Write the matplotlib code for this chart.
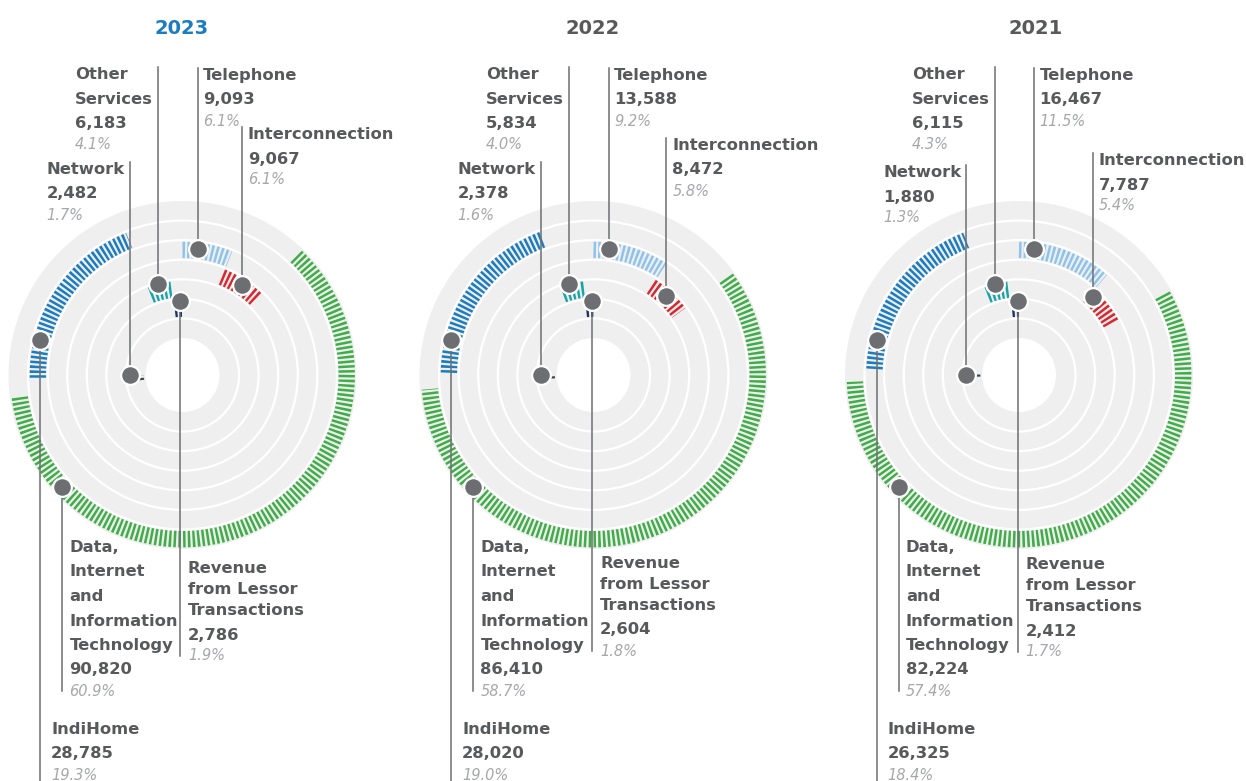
import numpy as np
import matplotlib.pyplot as plt
from matplotlib.patches import Wedge, Circle

plt.rcParams['font.family'] = 'DejaVu Sans'
plt.rcParams['lines.scale_dashes'] = False

# data (angular order, clockwise from the top)
years = ['2023', '2022', '2021']
categories = ['Telephone', 'Interconnection', 'Data, Internet and Information Technology',
              'Network', 'IndiHome', 'Other Services', 'Revenue from Lessor Transactions']
values_2023 = [9093, 9067, 90820, 2482, 28785, 6183, 2786]
values_2022 = [13588, 8472, 86410, 2378, 28020, 5834, 2604]
values_2021 = [16467, 7787, 82224, 1880, 26325, 6115, 2412]
all_values = [values_2023, values_2022, values_2021]

name_lines = [['Telephone'], ['Interconnection'],
              ['Data,', 'Internet', 'and', 'Information', 'Technology'],
              ['Network'], ['IndiHome'], ['Other', 'Services'],
              ['Revenue', 'from Lessor', 'Transactions']]
colors = ['#8ec3ea', '#d7282f', '#41ad49', '#3f4652', '#1c7cc0', '#17a3a8', '#1d3161']

# layout
W, H = 1246, 781
centers_x = [182.5, 593.5, 1019]
center_y = 375
title_x = [182, 593, 1036]
title_colors = ['#1a7cc1', '#58595b', '#58595b']
r_outer, r_hole = 174, 37
ring_w = (r_outer - r_hole) / 7

# where the marker dot sits on each arc (degrees clockwise from top), per panel
dot_angle = [[7, 7, 7], [33.6, 42.7, 43.5], [227, 227, 227], [270, 270, 270],
             [284, 284, 284], [345, 345, 345], [358, 359, 359]]
dot_dr = [2, 2, 0, 6, 2, 8, 8]
label_dx = [5, 6, 7, -83, 11, -83, 8]
label_up = [True, True, False, True, False, True, False]
name_step = [24.5, 24.5, 24.5, 24.5, 24.5, 24.5, 21]
baselines = [[80, 80, 80], [139, 150, 165], [552, 552, 552], [174, 174, 177],
             [734, 734, 734], [79, 79, 79], [573, 568, 569]]

TXT = '#58595b'
PCT = '#a5a7aa'
DOT = '#6d6e71'

fig = plt.figure(figsize=(W / 100, H / 100), dpi=100)
ax = fig.add_axes([0, 0, 1, 1])
ax.set_xlim(0, W)
ax.set_ylim(H, 0)
ax.axis('off')


def pos(cx, ang, r):
    a = np.radians(ang)
    return cx + r * np.sin(a), center_y - r * np.cos(a)


for p, (year, vals) in enumerate(zip(years, all_values)):
    cx = centers_x[p]
    vals = np.array(vals, dtype=float)
    total = vals.sum()
    ends = np.cumsum(vals) / total * 360
    starts = ends - vals / total * 360
    rank = np.argsort(np.argsort(-vals))  # 0 = largest = outer ring

    ax.add_patch(Wedge((cx, center_y), r_outer, 0, 360, width=r_outer - r_hole,
                       fc='#efefef', ec='none', zorder=1))
    for k in range(1, 7):
        ax.add_patch(Circle((cx, center_y), r_outer - k * ring_w, fill=False,
                            ec='white', lw=1.6, zorder=2))

    ax.text(title_x[p], 34, year, fontsize=14, fontweight='bold',
            color=title_colors[p], ha='center', va='baseline')

    for i in range(len(categories)):
        r_mid = r_outer - (rank[i] + 0.5) * ring_w
        th = np.linspace(starts[i], ends[i], max(int((ends[i] - starts[i]) * 4), 4))
        xs, ys = pos(cx, th, r_mid)
        ax.plot(xs, ys, color=colors[i], lw=11.8, linestyle=(0, (1.8, 1.6)),
                dash_capstyle='butt', solid_capstyle='butt', zorder=3)

        dx, dy = pos(cx, dot_angle[i][p], r_mid + dot_dr[i])

        b0 = baselines[i][p]
        nl = name_lines[i]
        tx = dx + label_dx[i]
        y = b0
        for ln in nl:
            ax.text(tx, y, ln, fontsize=11.8, fontweight='bold', color=TXT,
                    ha='left', va='baseline')
            y += name_step[i]
        y = b0 + name_step[i] * (len(nl) - 1) + 24.5
        ax.text(tx, y, f'{int(vals[i]):,}', fontsize=11.8, fontweight='bold',
                color=TXT, ha='left', va='baseline')
        y_pct = y + 21
        ax.text(tx, y_pct, f'{vals[i] / total * 100:.1f}%', fontsize=10.5,
                style='italic', color=PCT, ha='left', va='baseline')

        if label_up[i]:
            y_end = b0 - 12
        elif categories[i] == 'IndiHome':
            y_end = H
        else:
            y_end = y_pct - 5
        ax.plot([dx, dx], [dy, y_end], color=DOT, lw=1.1, zorder=4)
        ax.plot(dx, dy, 'o', ms=13.5, mfc=DOT, mec='white', mew=1.6, zorder=6)

fig.savefig('out.png', dpi=100, facecolor='white')
